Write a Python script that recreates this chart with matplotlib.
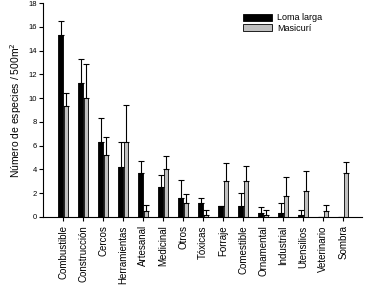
import numpy as np
import matplotlib.pyplot as plt

plt.rcParams['font.family'] = ['Liberation Sans', 'DejaVu Sans']

categories = ["Combustible", "Construcción", "Cercos", "Herramientas", "Artesanal",
              "Medicinal", "Otros", "Tóxicas", "Forraje", "Comestible", "Ornamental",
              "Industrial", "Utensilios", "Veterinario", "Sombra"]

loma = [15.3, 11.3, 6.3, 4.2, 3.7, 2.5, 1.6, 1.2, 0.95, 0.95, 0.35, 0.35, 0.17, 0.0, 0.0]
loma_err = [1.2, 2.0, 2.0, 2.1, 1.0, 1.0, 1.55, 0.4, 0.0, 1.1, 0.45, 0.8, 0.4, 0.0, 0.0]

masicuri = [9.3, 10.0, 5.2, 6.3, 0.5, 4.0, 1.15, 0.15, 3.0, 3.0, 0.15, 1.8, 2.15, 0.5, 3.67]
masicuri_err = [1.15, 2.85, 1.5, 3.1, 0.48, 1.1, 0.75, 0.4, 1.5, 1.3, 0.4, 1.6, 1.7, 0.48, 0.92]

x = np.arange(len(categories))
w = 0.23

fig = plt.figure(figsize=(3.68, 3.06), dpi=100)
ax = fig.add_axes([0.117, 0.291, 0.867, 0.699])

ax.bar(x - 0.125, loma, w, color="black", edgecolor="black", linewidth=0.6,
       yerr=[np.zeros(len(loma)), loma_err], error_kw=dict(elinewidth=0.8, capsize=2.2, capthick=0.8),
       label="Loma larga")
ax.bar(x + 0.145, masicuri, w, color="#c0c0c0", edgecolor="black", linewidth=0.6,
       yerr=[np.zeros(len(masicuri)), masicuri_err], error_kw=dict(elinewidth=0.8, capsize=2.2, capthick=0.8),
       label="Masicurí")

ax.set_xlim(-1, 14.95)
ax.set_ylim(0, 18)
ax.set_yticks(range(0, 19, 2))
ax.set_xticks(x)
ax.set_xticklabels(categories, rotation=90, fontsize=7)
ax.tick_params(axis='y', labelsize=5.5, length=3, width=0.8, pad=1.5)
ax.tick_params(axis='x', length=3, width=0.8, pad=3)
ax.spines['top'].set_visible(False)
ax.spines['right'].set_visible(False)
ax.spines['left'].set_linewidth(0.8)
ax.spines['bottom'].set_linewidth(0.8)
ax.set_ylabel("Número de especies / 500m$^2$", fontsize=7.5, labelpad=3)

ax.legend(loc="upper left", bbox_to_anchor=(0.6, 0.99), frameon=False, fontsize=6.5,
          handlelength=3.2, handleheight=0.8, handletextpad=0.6, labelspacing=0.15)

fig.savefig("out.png", dpi=100)
